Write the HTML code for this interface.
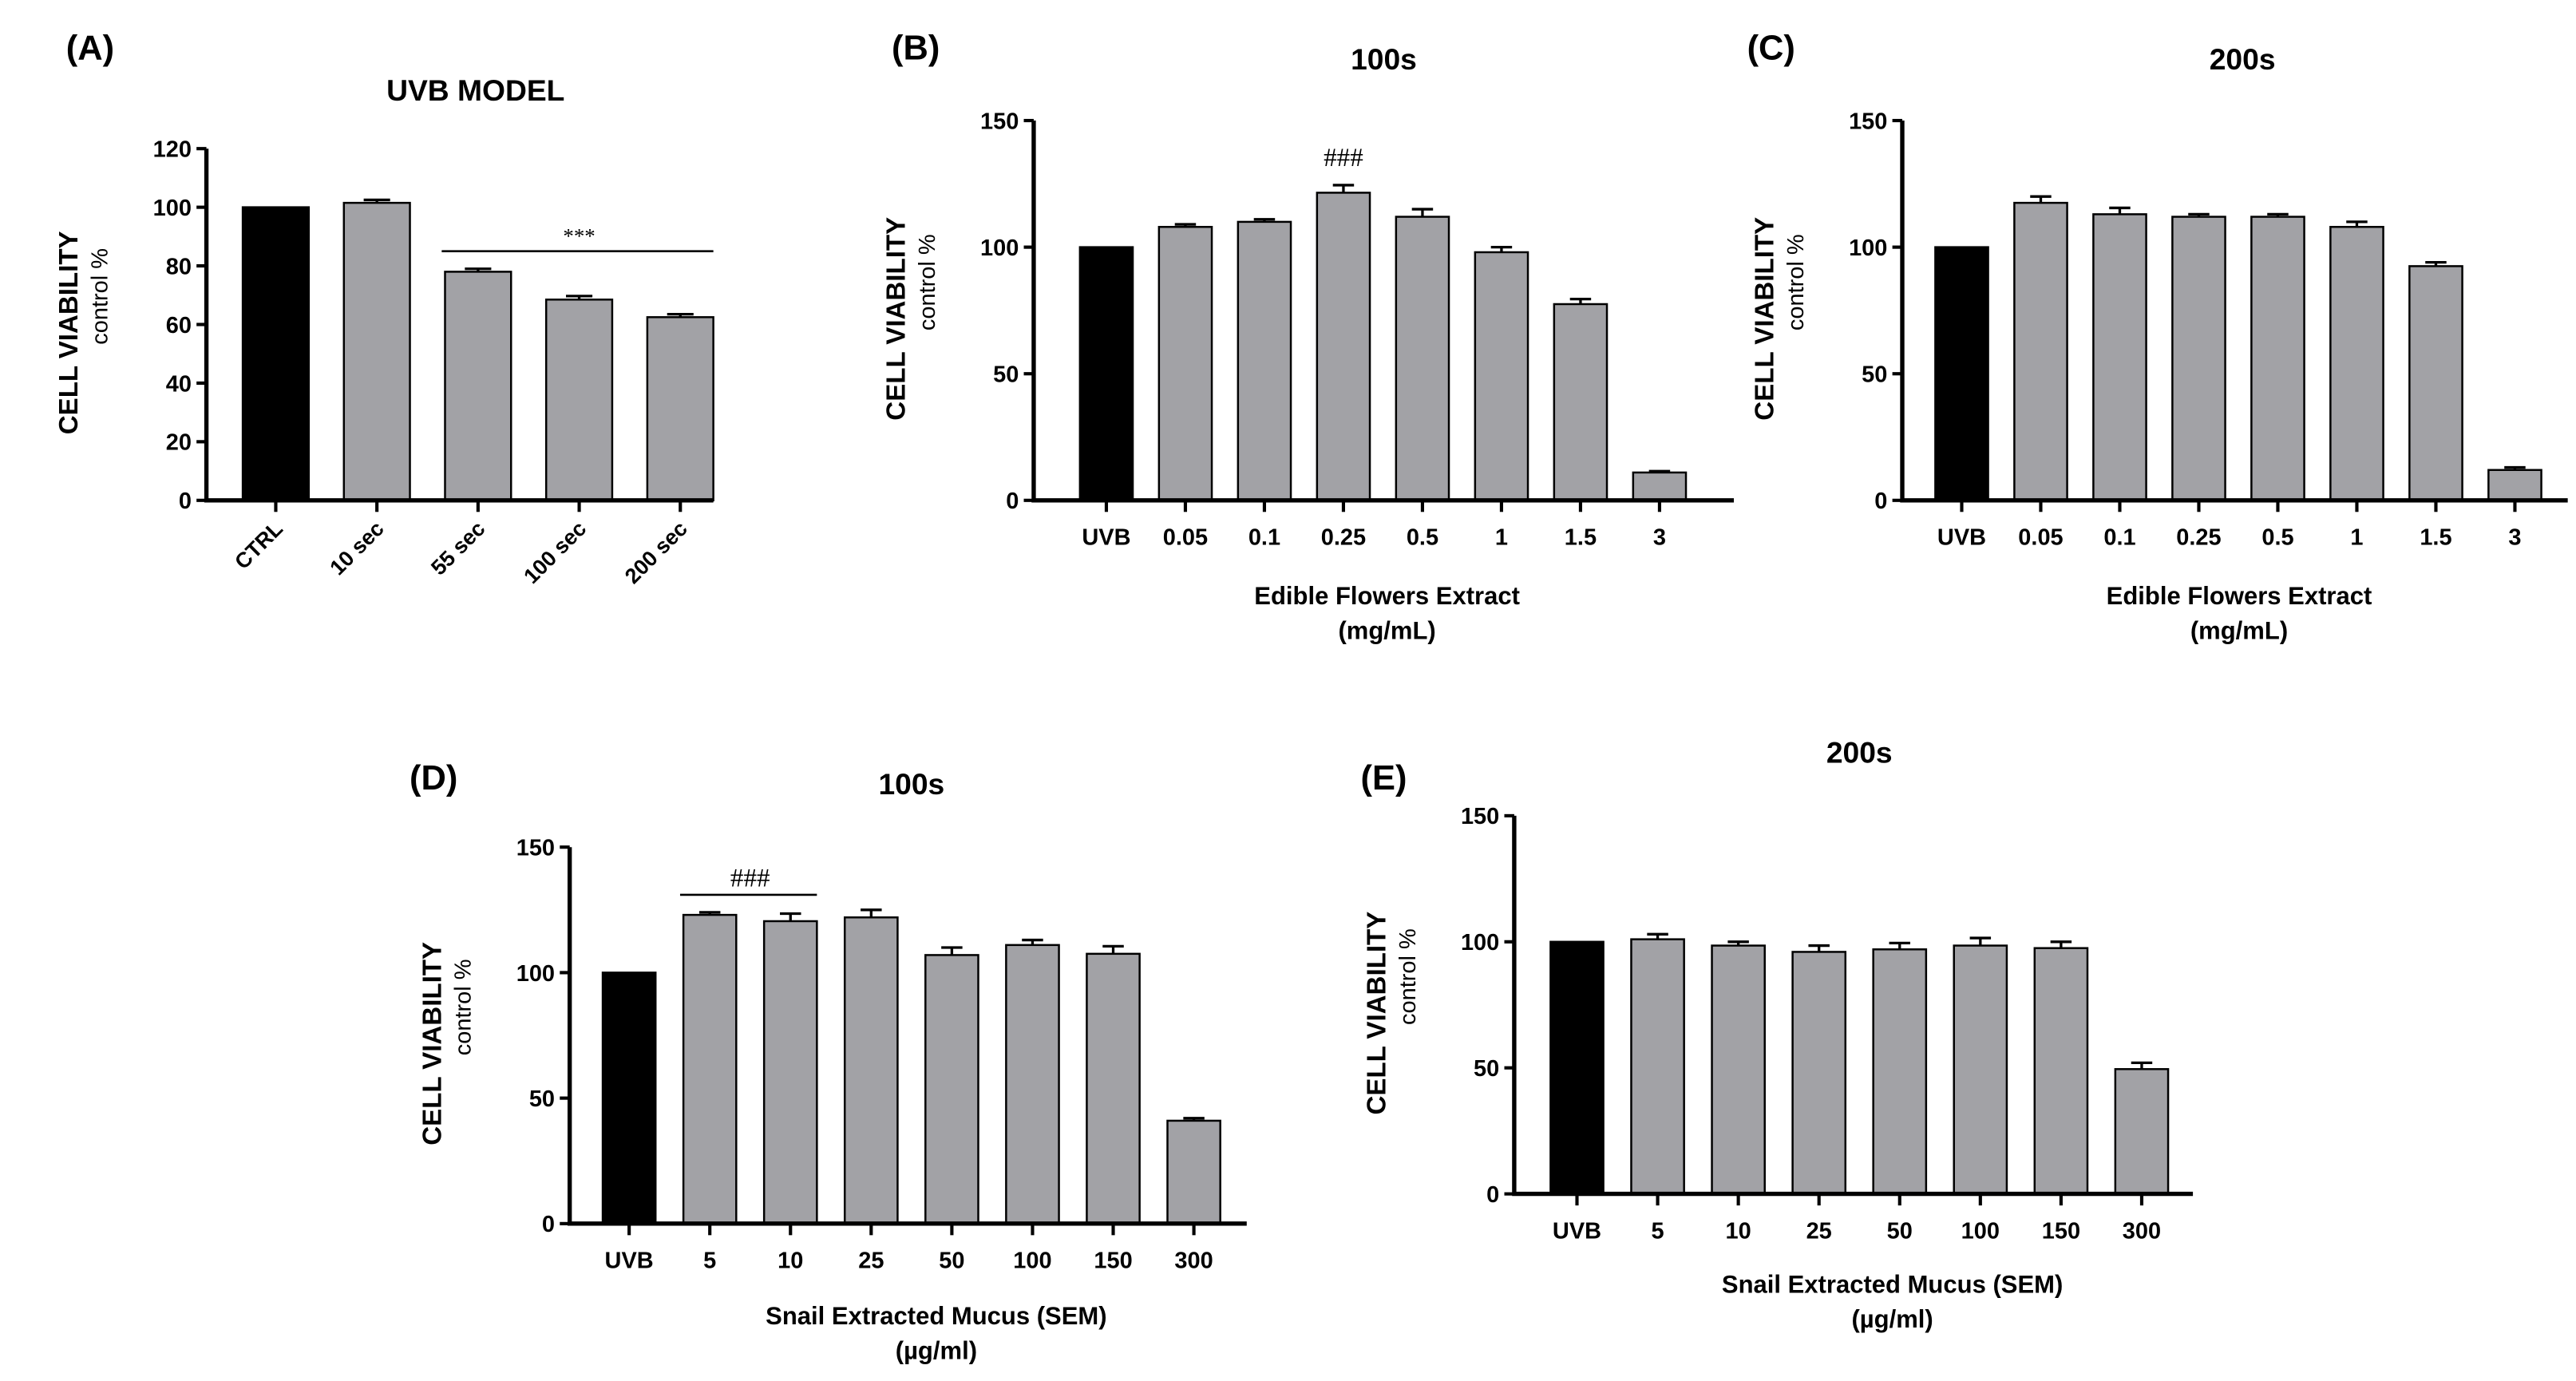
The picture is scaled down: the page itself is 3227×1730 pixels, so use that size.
<!DOCTYPE html>
<html><head><meta charset="utf-8"><style>
html,body{margin:0;padding:0;background:#fff}
svg{display:block}
text{font-family:"Liberation Sans",Arial,sans-serif;fill:#000}
.b{font-weight:bold}
</style></head><body>
<svg id="fig" width="3227" height="1730" viewBox="0 0 1560 836.3" xmlns="http://www.w3.org/2000/svg">
<rect width="1560" height="836.3" fill="#fff"/>
</svg>
<script>
// ---- Data ----
const catsA = ["CTRL","10 sec","55 sec","100 sec","200 sec"];
const valsA = [100, 101.5, 78, 68.5, 62.5];
const errA  = [0, 1, 1, 1.2, 1];
const ticksA = [0,20,40,60,80,100,120];

const catsB = ["UVB","0.05","0.1","0.25","0.5","1","1.5","3"];
const valsB = [100, 108, 110, 121.5, 112, 98, 77.5, 11];
const errB  = [0, 1, 1, 3, 3, 2, 2, 0.5];

const catsC = ["UVB","0.05","0.1","0.25","0.5","1","1.5","3"];
const valsC = [100, 117.5, 113, 112, 112, 108, 92.5, 12];
const errC  = [0, 2.5, 2.5, 1, 1, 2, 1.5, 1];

const catsD = ["UVB","5","10","25","50","100","150","300"];
const valsD = [100, 123, 120.5, 122, 107, 111, 107.5, 41];
const errD  = [0, 1, 3, 3, 3, 2, 3, 1];

const catsE = ["UVB","5","10","25","50","100","150","300"];
const valsE = [100, 101, 98.5, 96, 97, 98.5, 97.5, 49.5];
const errE  = [0, 2, 1.5, 2.5, 2.5, 3, 2.5, 2.5];

const ticks150 = [0,50,100,150];

const NS = "http://www.w3.org/2000/svg";
const svg = document.getElementById('fig');
function mk(tag, attrs, parent, txt){
  const e = document.createElementNS(NS, tag);
  for (const k in attrs) e.setAttribute(k, attrs[k]);
  if (txt !== undefined) e.textContent = txt;
  (parent || svg).appendChild(e);
  return e;
}

function panel(o){
  const g = mk('g', {});
  
  
  const y = v => o.y0 - (v / o.ymax) * (o.y0 - o.ytop);
  const n = o.cats.length;
  const step = (o.xlast - o.xfirst) / (n - 1);
  const x = i => o.xfirst + i * step;
  // bars
  o.vals.forEach((v, i) => {
    const r = mk('rect', {x: x(i) - o.bw/2, y: y(v), width: o.bw, height: o.y0 - y(v),
      fill: i === 0 ? '#000' : '#a2a2a6', stroke: '#000', 'stroke-width': 1.2}, g);
    
    
    if (o.errs[i] > 0) {
      const top = y(v + o.errs[i]);
      const eb = mk('path', {d: `M${x(i)},${y(v)}V${top}M${x(i)-o.bw*0.2},${top}H${x(i)+o.bw*0.2}`,
        stroke: '#000', 'stroke-width': 1.6, fill: 'none'}, g);
      
      
    }
  });
  // axes
  const ax = mk('path', {d: `M${o.xaxis},${o.ytop}V${o.y0}H${o.xend}`, stroke: '#000', 'stroke-width': 2.6, fill: 'none'}, g);
  
  
  o.ticks.forEach(t => {
    mk('line', {x1: o.xaxis - 6, x2: o.xaxis, y1: y(t), y2: y(t), stroke: '#000', 'stroke-width': 2}, g);
    const tl = mk('text', {x: o.xaxis - 9, y: y(t) + 5, 'text-anchor': 'end', 'font-size': 14, class: 'b'}, g, String(t));
    
    
  });
  o.cats.forEach((c, i) => {
    mk('line', {x1: x(i), x2: x(i), y1: o.y0, y2: o.y0 + 7, stroke: '#000', 'stroke-width': 2}, g);
    let tl;
    if (o.rot) {
      tl = mk('text', {x: x(i) + 5, y: o.y0 + 18, 'text-anchor': 'end', 'font-size': 13, class: 'b',
        transform: `rotate(-45 ${x(i)+5} ${o.y0+18})`}, g, c);
    } else {
      tl = mk('text', {x: x(i), y: o.y0 + 27, 'text-anchor': 'middle', 'font-size': 14, class: 'b'}, g, c);
    }
    
    
  });
  // y title
  const yc = (o.ytop + o.y0) / 2 + 5;
  const t1 = mk('text', {x: o.xaxis - 78, y: yc, 'text-anchor': 'middle', 'font-size': 16, class: 'b',
    transform: `rotate(-90 ${o.xaxis-78} ${yc})`}, g, 'CELL VIABILITY');
  
  
  const t2 = mk('text', {x: o.xaxis - 60, y: yc - 22, 'text-anchor': 'middle', 'font-size': 14, fill: '#333',
    transform: `rotate(-90 ${o.xaxis-60} ${yc-22})`}, g, 'control %');
  
  
  // title & label
  const tt = mk('text', {x: o.tx, y: o.ty, 'text-anchor': 'middle', 'font-size': 18, class: 'b'}, g, o.title);
  
  
  const pl = mk('text', {x: o.lx, y: o.ly, 'font-size': 21, class: 'b'}, g, o.label);
  
  
  if (o.xl1) {
    const a = mk('text', {x: o.xlc, y: o.xly, 'text-anchor': 'middle', 'font-size': 15, class: 'b'}, g, o.xl1);
    
    
    const b = mk('text', {x: o.xlc, y: o.xly + 21, 'text-anchor': 'middle', 'font-size': 15, class: 'b'}, g, o.xl2);
    
    
  }
  if (o.sig) {
    const s = o.sig;
    if (s.from !== undefined) {
      const yl = y(s.v);
      mk('line', {x1: x(s.from) - o.bw/2 - 2, x2: x(s.to) + o.bw/2, y1: yl, y2: yl, stroke: '#000', 'stroke-width': 1.3}, g);
      const st = mk('text', {x: (x(s.from) + x(s.to)) / 2, y: yl - 5, 'text-anchor': 'middle', 'font-size': s.fs,
        style: 'font-family:"Liberation Serif",serif'}, g, s.txt);
      
      
    } else {
      const st = mk('text', {x: x(s.at), y: y(s.v), 'text-anchor': 'middle', 'font-size': s.fs,
        style: 'font-family:"Liberation Serif",serif'}, g, s.txt);
      
      
    }
  }
}

panel({name:'panel-a', cats:catsA, vals:valsA, errs:errA, ticks:ticksA, ymax:120,
  y0:303, ytop:90, xaxis:125, xend:432, xfirst:167, xlast:412, bw:40, rot:true,
  title:'UVB MODEL', tx:288, ty:61, label:'(A)', lx:40, ly:36,
  sig:{from:2, to:4, v:85, txt:'***', fs:13}});
panel({name:'panel-b', cats:catsB, vals:valsB, errs:errB, ticks:ticks150, ymax:150,
  y0:303, ytop:73, xaxis:626, xend:1050, xfirst:670, xlast:1005, bw:32,
  title:'100s', tx:838, ty:42, label:'(B)', lx:540, ly:36,
  xl1:'Edible Flowers Extract', xl2:'(mg/mL)', xlc:840, xly:366,
  sig:{at:3, v:132, txt:'###', fs:16}});
panel({name:'panel-c', cats:catsC, vals:valsC, errs:errC, ticks:ticks150, ymax:150,
  y0:303, ytop:73, xaxis:1152, xend:1555, xfirst:1188, xlast:1523, bw:32,
  title:'200s', tx:1358, ty:42, label:'(C)', lx:1058, ly:36,
  xl1:'Edible Flowers Extract', xl2:'(mg/mL)', xlc:1356, xly:366});
panel({name:'panel-d', cats:catsD, vals:valsD, errs:errD, ticks:ticks150, ymax:150,
  y0:741, ytop:513, xaxis:345, xend:755, xfirst:381, xlast:723, bw:32,
  title:'100s', tx:552, ty:481, label:'(D)', lx:248, ly:478,
  xl1:'Snail Extracted Mucus (SEM)', xl2:'(\u00b5g/ml)', xlc:567, xly:802,
  sig:{from:1, to:2, v:131, txt:'###', fs:16}});
panel({name:'panel-e', cats:catsE, vals:valsE, errs:errE, ticks:ticks150, ymax:150,
  y0:723, ytop:494, xaxis:917, xend:1328, xfirst:955, xlast:1297, bw:32,
  title:'200s', tx:1126, ty:462, label:'(E)', lx:824, ly:478,
  xl1:'Snail Extracted Mucus (SEM)', xl2:'(\u00b5g/ml)', xlc:1146, xly:783});
</script>
</body></html>
